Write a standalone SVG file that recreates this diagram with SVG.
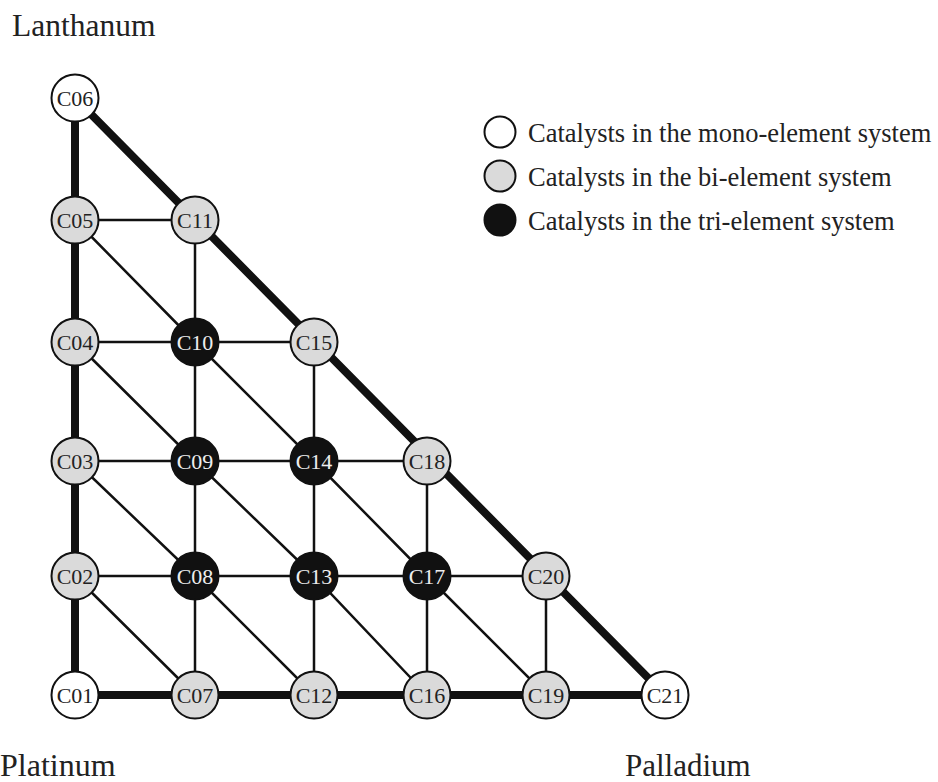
<svg xmlns="http://www.w3.org/2000/svg" width="938" height="782" viewBox="0 0 938 782">
<style>
.t{font-family:"Liberation Serif","Times New Roman",serif;fill:#222}
.big{font-size:31px}
.leg{font-size:26.5px}
.lbl{font-family:"Liberation Serif","Times New Roman",serif;font-size:22px;text-anchor:middle;dominant-baseline:central}
.mono{fill:#fff;stroke:#111;stroke-width:2}
.bi{fill:#dadada;stroke:#111;stroke-width:2}
.tri{fill:#111;stroke:#111;stroke-width:2}
.dk{fill:#222}
.lt{fill:#eee}
.thick{stroke:#111;stroke-width:8;fill:none}
.thin{stroke:#111;stroke-width:2.5;fill:none}
</style>
<rect width="938" height="782" fill="#fff"/>
<text class="t" x="12" y="36" font-size="31.5">Lanthanum</text>
<text class="t" x="0" y="776" font-size="32">Platinum</text>
<text class="t big" x="625" y="776">Palladium</text>
<g id="connectors">
<path class="thick" d="M75 98 L75 695 L665 695 Z"/>
<path class="thin" d="M75 576 L546 576 M75 461 L427 461 M75 342 L314 342 M75 220 L195 220"/>
<path class="thin" d="M195 695 L195 220 M314 695 L314 342 M427 695 L427 461 M546 695 L546 576"/>
<path class="thin" d="M75 576 L195 695 M75 461 L195 576 L314 695 M75 342 L195 461 L314 576 L427 695 M75 220 L195 342 L314 461 L427 576 L546 695"/>
</g>
<g id="C01"><circle class="mono" cx="75" cy="695" r="23.5"/><text class="lbl dk" x="75" y="695">C01</text></g>
<g id="C07"><circle class="bi" cx="195" cy="695" r="23.5"/><text class="lbl dk" x="195" y="695">C07</text></g>
<g id="C12"><circle class="bi" cx="314" cy="695" r="23.5"/><text class="lbl dk" x="314" y="695">C12</text></g>
<g id="C16"><circle class="bi" cx="427" cy="695" r="23.5"/><text class="lbl dk" x="427" y="695">C16</text></g>
<g id="C19"><circle class="bi" cx="546" cy="695" r="23.5"/><text class="lbl dk" x="546" y="695">C19</text></g>
<g id="C21"><circle class="mono" cx="665" cy="695" r="23.5"/><text class="lbl dk" x="665" y="695">C21</text></g>
<g id="C02"><circle class="bi" cx="75" cy="576" r="23.5"/><text class="lbl dk" x="75" y="576">C02</text></g>
<g id="C08"><circle class="tri" cx="195" cy="576" r="23.5"/><text class="lbl lt" x="195" y="576">C08</text></g>
<g id="C13"><circle class="tri" cx="314" cy="576" r="23.5"/><text class="lbl lt" x="314" y="576">C13</text></g>
<g id="C17"><circle class="tri" cx="427" cy="576" r="23.5"/><text class="lbl lt" x="427" y="576">C17</text></g>
<g id="C20"><circle class="bi" cx="546" cy="576" r="23.5"/><text class="lbl dk" x="546" y="576">C20</text></g>
<g id="C03"><circle class="bi" cx="75" cy="461" r="23.5"/><text class="lbl dk" x="75" y="461">C03</text></g>
<g id="C09"><circle class="tri" cx="195" cy="461" r="23.5"/><text class="lbl lt" x="195" y="461">C09</text></g>
<g id="C14"><circle class="tri" cx="314" cy="461" r="23.5"/><text class="lbl lt" x="314" y="461">C14</text></g>
<g id="C18"><circle class="bi" cx="427" cy="461" r="23.5"/><text class="lbl dk" x="427" y="461">C18</text></g>
<g id="C04"><circle class="bi" cx="75" cy="342" r="23.5"/><text class="lbl dk" x="75" y="342">C04</text></g>
<g id="C10"><circle class="tri" cx="195" cy="342" r="23.5"/><text class="lbl lt" x="195" y="342">C10</text></g>
<g id="C15"><circle class="bi" cx="314" cy="342" r="23.5"/><text class="lbl dk" x="314" y="342">C15</text></g>
<g id="C05"><circle class="bi" cx="75" cy="220" r="23.5"/><text class="lbl dk" x="75" y="220">C05</text></g>
<g id="C11"><circle class="bi" cx="195" cy="220" r="23.5"/><text class="lbl dk" x="195" y="220">C11</text></g>
<g id="C06"><circle class="mono" cx="75" cy="98" r="23.5"/><text class="lbl dk" x="75" y="98">C06</text></g>
<g id="legend">
<circle class="mono" cx="500" cy="132" r="15.5"/>
<text class="t leg" x="528" y="142">Catalysts in the mono-element system</text>
<circle class="bi" cx="500" cy="176" r="15.5"/>
<text class="t leg" x="528" y="186">Catalysts in the bi-element system</text>
<circle class="tri" cx="500" cy="220" r="15.5"/>
<text class="t leg" x="528" y="230">Catalysts in the tri-element system</text>
</g>
</svg>
